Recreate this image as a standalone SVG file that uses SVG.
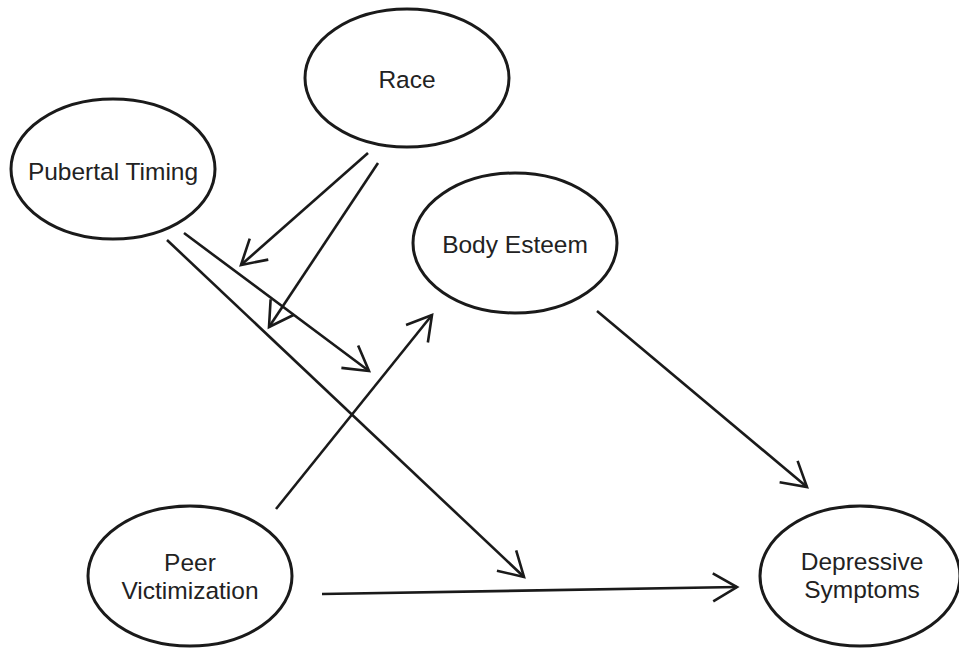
<svg xmlns="http://www.w3.org/2000/svg" width="959" height="649" viewBox="0 0 959 649">
<style>
.node ellipse{fill:#fff;stroke:#1a1a1a;stroke-width:3}
.node text{font-family:"Liberation Sans",Arial,sans-serif;font-size:24.5px;fill:#222;text-anchor:middle}
.edges line{stroke:#1a1a1a;stroke-width:2.6;marker-end:url(#arr)}
</style>
<defs>
<marker id="arr" markerUnits="userSpaceOnUse" markerWidth="40" markerHeight="40" viewBox="-30 -20 40 40" refX="0" refY="0" orient="auto" overflow="visible">
<path d="M-24,-14 L0,0 L-24,14" fill="none" stroke="#1a1a1a" stroke-width="2.6"/>
</marker>
</defs>
<rect width="959" height="649" fill="#fff"/>
<g class="edges">
<line x1="368" y1="153" x2="241" y2="265"/>
<line x1="378" y1="163" x2="269" y2="327"/>
<line x1="184" y1="233" x2="369" y2="371"/>
<line x1="167" y1="240" x2="524" y2="577"/>
<line x1="276" y1="509" x2="432" y2="315"/>
<line x1="597" y1="311" x2="807" y2="487"/>
<line x1="322" y1="594" x2="737" y2="587"/>
</g>
<g id="race" class="node"><ellipse cx="407" cy="78" rx="102" ry="69"/><text x="407" y="88">Race</text></g>
<g id="pubertal" class="node"><ellipse cx="113" cy="169" rx="102" ry="70"/><text x="113" y="180">Pubertal Timing</text></g>
<g id="body" class="node"><ellipse cx="515" cy="243" rx="102" ry="70"/><text x="515" y="253">Body Esteem</text></g>
<g id="peer" class="node"><ellipse cx="190" cy="576" rx="102" ry="70"/><text x="190" y="571">Peer</text><text x="190" y="599">Victimization</text></g>
<g id="depressive" class="node"><ellipse cx="860" cy="576" rx="100" ry="70"/><text x="862" y="570">Depressive</text><text x="862" y="598">Symptoms</text></g>
</svg>
